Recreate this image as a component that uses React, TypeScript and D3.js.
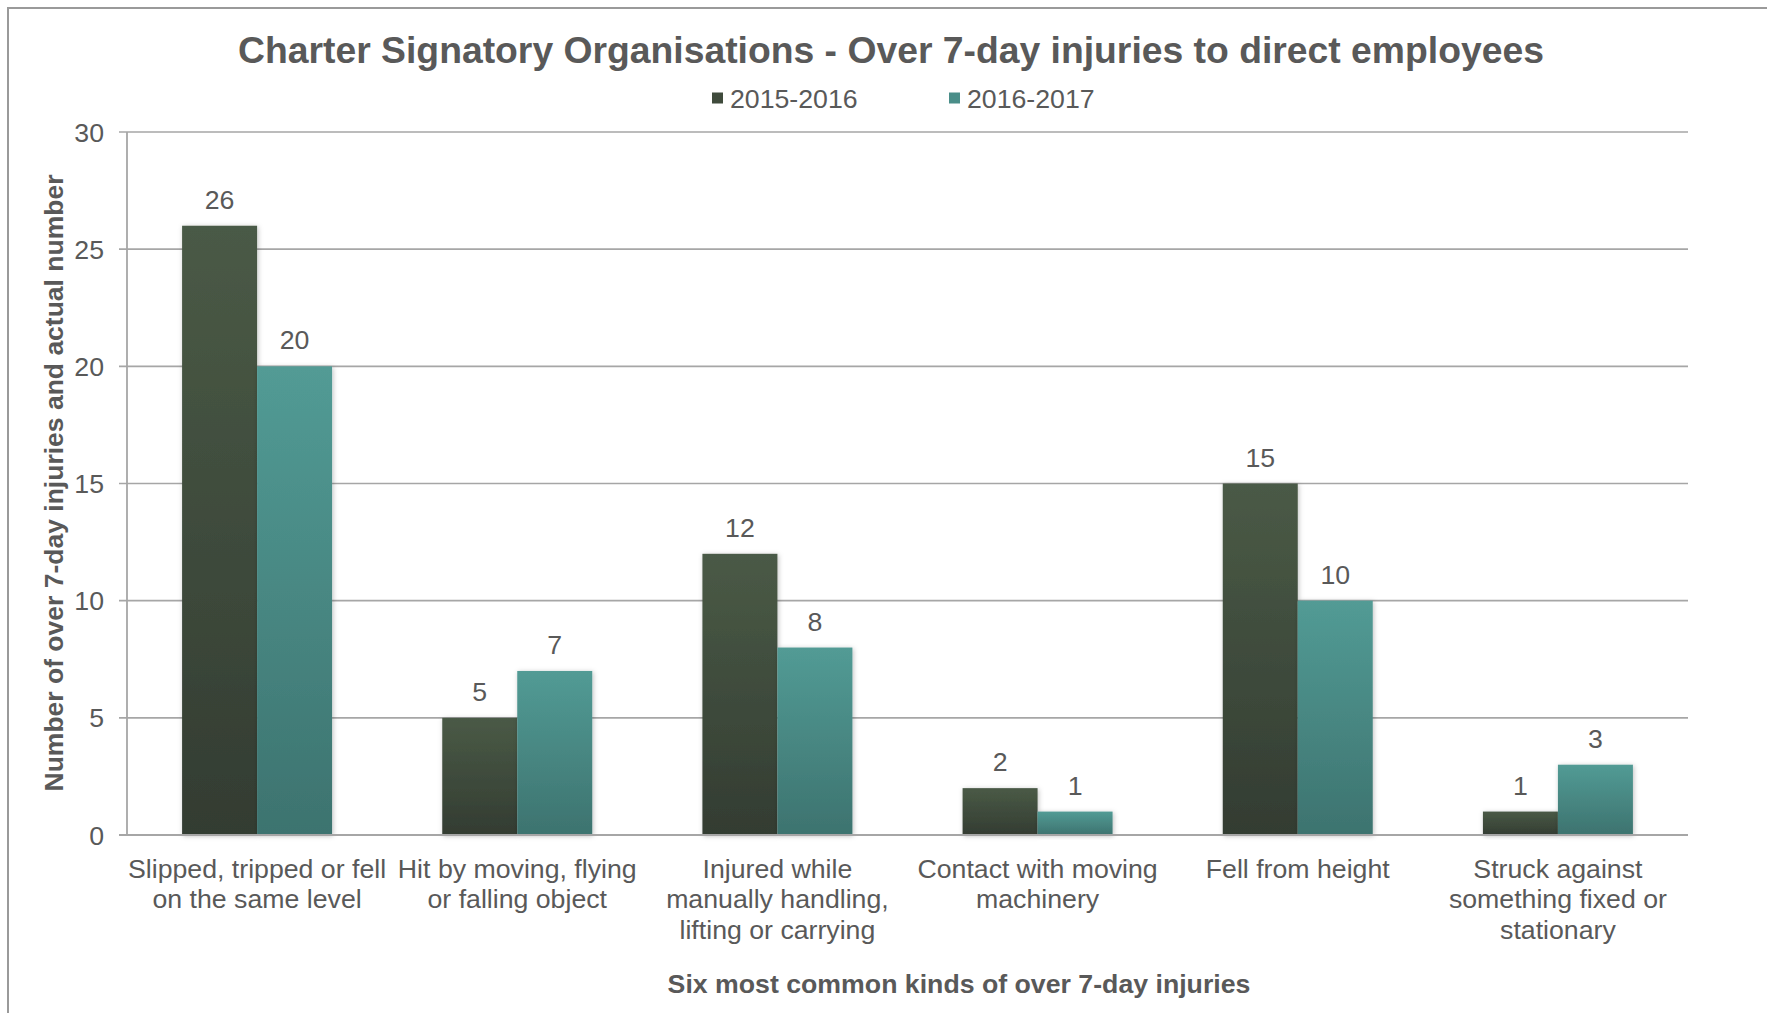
import React from "react";
import * as d3 from "d3";

const categories: string[][] = [
  ["Slipped, tripped or fell", "on the same level"],
  ["Hit by moving, flying", "or falling object"],
  ["Injured while", "manually handling,", "lifting or carrying"],
  ["Contact with moving", "machinery"],
  ["Fell from height"],
  ["Struck against", "something fixed or", "stationary"],
];
const seriesNames = ["2015-2016", "2016-2017"];
const values2015 = [26, 5, 12, 2, 15, 1];
const values2016 = [20, 7, 8, 1, 10, 3];
const yTicks = [0, 5, 10, 15, 20, 25, 30];

const W = 1767;
const H = 1013;
const left = 127;
const right = 1688;
const top = 132;
const bottom = 835;
const textColor = "#595959";
const font = "'Liberation Sans', Arial, sans-serif";
const fs = 26.7;

export default function App() {
  const x0 = d3
    .scaleBand<number>()
    .domain(d3.range(categories.length))
    .range([left, right])
    .paddingInner(0.4235)
    .paddingOuter(0.21175);
  const x1 = d3.scaleBand<number>().domain([0, 1]).range([0, x0.bandwidth()]);
  const y = d3.scaleLinear().domain([0, 30]).range([bottom, top]);
  const series = [values2015, values2016];
  const grads = ["gDark", "gTeal"];
  const legendFill = ["#3f4b3c", "#4a8e89"];

  return (
    <svg
      width={W}
      height={H}
      style={{ position: "absolute", left: 0, top: 0, display: "block", background: "#fff" }}
      fontFamily={font}
    >
      <defs>
        <linearGradient id="gDark" x1="0" y1="0" x2="0" y2="1">
          <stop offset="0" stopColor="#4a5a46" />
          <stop offset="1" stopColor="#333c32" />
        </linearGradient>
        <linearGradient id="gTeal" x1="0" y1="0" x2="0" y2="1">
          <stop offset="0" stopColor="#529b95" />
          <stop offset="1" stopColor="#3d736f" />
        </linearGradient>
        <filter id="shadow" x="-20%" y="-20%" width="140%" height="140%">
          <feDropShadow dx="1" dy="1" stdDeviation="2.5" floodColor="#000" floodOpacity="0.25" />
        </filter>
      </defs>
      <rect x={8} y={8} width={W + 20} height={H + 20} fill="#fff" stroke="#9a9a9a" strokeWidth={2} />

      {/* gridlines */}
      {yTicks.map((t) => (
        <g key={t}>
          <line x1={left - 8} x2={right} y1={y(t)} y2={y(t)} stroke="#a6a6a6" strokeWidth={t === 0 ? 2.2 : 1.6} />
          <text x={104} y={y(t)} dy="0.36em" textAnchor="end" fontSize={fs} fill={textColor}>
            {t}
          </text>
        </g>
      ))}
      <line x1={left} x2={left} y1={top} y2={bottom} stroke="#a6a6a6" strokeWidth={1.8} />

      {/* bars */}
      {categories.map((_, i) =>
        series.map((vals, s) => {
          const bx = (x0(i) as number) + (x1(s) as number);
          const bw = x1.bandwidth();
          const by = y(vals[i]);
          return (
            <g key={`${i}-${s}`}>
              <rect
                x={bx}
                y={by}
                width={bw}
                height={bottom - by}
                fill={`url(#${grads[s]})`}
                filter="url(#shadow)"
              />
              <text x={bx + bw / 2} y={by - 17} textAnchor="middle" fontSize={fs} fill={textColor}>
                {vals[i]}
              </text>
            </g>
          );
        })
      )}
      <line x1={left - 8} x2={right} y1={bottom} y2={bottom} stroke="#a6a6a6" strokeWidth={2.2} />

      {/* category labels */}
      {categories.map((lines, i) => (
        <text key={i} textAnchor="middle" fontSize={fs} fill={textColor}>
          {lines.map((ln, j) => (
            <tspan key={j} x={(x0(i) as number) + x0.bandwidth() / 2} y={868 + j * 30.8} dy="0.36em">
              {ln}
            </tspan>
          ))}
        </text>
      ))}

      {/* title */}
      <text x={891} y={50} dy="0.36em" textAnchor="middle" fontSize={37.3} fontWeight="bold" fill={textColor}>
        Charter Signatory Organisations - Over 7-day injuries to direct employees
      </text>

      {/* legend */}
      {seriesNames.map((n, s) => {
        const lx = [712, 949][s];
        return (
          <g key={n}>
            <rect x={lx} y={92.5} width={11} height={11} fill={legendFill[s]} />
            <text x={lx + 18} y={98} dy="0.36em" fontSize={fs} fill={textColor}>
              {n}
            </text>
          </g>
        );
      })}

      {/* axis titles */}
      <text
        transform={`translate(53,483) rotate(-90)`}
        textAnchor="middle"
        dy="0.36em"
        fontSize={26.5}
        fontWeight="bold"
        fill={textColor}
      >
        Number of over 7-day injuries and actual number
      </text>
      <text x={959} y={983} dy="0.36em" textAnchor="middle" fontSize={fs} fontWeight="bold" fill={textColor}>
        Six most common kinds of over 7-day injuries
      </text>
    </svg>
  );
}
